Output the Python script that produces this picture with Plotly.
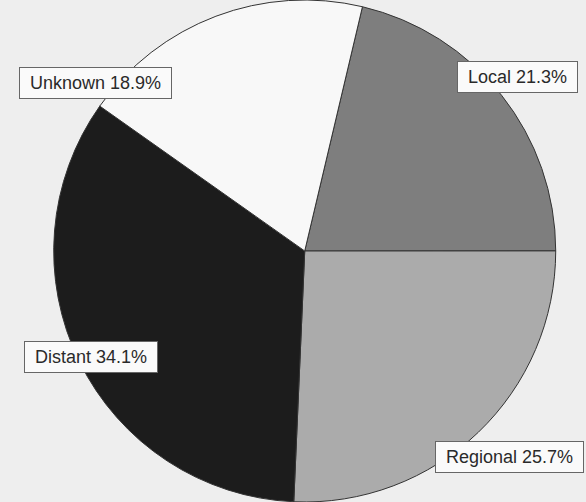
import plotly.graph_objects as go

categories = ["Local", "Regional", "Distant", "Unknown"]
values = [21.3, 25.7, 34.1, 18.9]
colors = ["#7e7e7e", "#ababab", "#1c1c1c", "#f8f8f8"]
label_text = ["Local 21.3%", "Regional 25.7%", "Distant 34.1%", "Unknown 18.9%"]
# label box centre positions (paper coords, x from left, y from bottom)
label_pos = [(0.883, 0.847), (0.87, 0.09), (0.155, 0.289), (0.163, 0.835)]

fig = go.Figure()
fig.add_trace(go.Pie(
    labels=categories,
    values=values,
    sort=False,
    direction="clockwise",
    rotation=13.3,
    marker=dict(colors=colors, line=dict(color="#333333", width=1)),
    textinfo="none",
    hoverinfo="label+percent",
    showlegend=False,
    domain=dict(x=[0.04, 1.0], y=[0.0, 1.0]),
))

for txt, (x, y) in zip(label_text, label_pos):
    fig.add_annotation(
        x=x, y=y, xref="paper", yref="paper",
        text="&nbsp;" + txt + "&nbsp;", showarrow=False,
        font=dict(family="Liberation Sans, Arial, sans-serif", size=18, color="#2a2a2a"),
        bgcolor="#fafafa", bordercolor="#666666", borderwidth=1, borderpad=5,
        xanchor="center", yanchor="middle",
    )

fig.update_layout(
    width=586, height=502,
    margin=dict(l=0, r=0, t=0, b=0),
    paper_bgcolor="#eeeeee",
    plot_bgcolor="#eeeeee",
)

fig.write_html("out.html")
